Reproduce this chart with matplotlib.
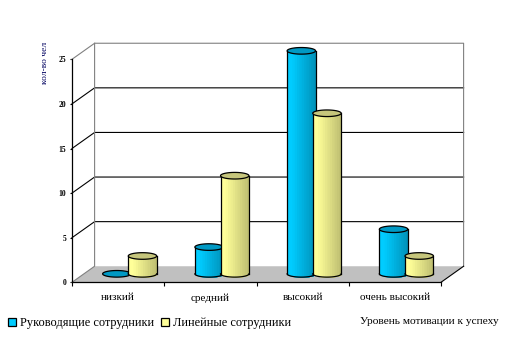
#!/usr/bin/env python3
"""Cylinder chart: motivation level by staff group."""
import numpy as np
import matplotlib
matplotlib.use("Agg")
import matplotlib.pyplot as plt
from matplotlib.colors import to_rgb
from matplotlib.patches import Patch

plt.rcParams['font.family'] = ['Liberation Serif', 'DejaVu Serif']

categories = ["низкий", "средний", "высокий", "очень высокий"]
managers = [0, 3, 25, 5]
line_staff = [2, 11, 18, 2]
y_ticks = [0, 5, 10, 15, 20, 25]
series_names = ["Руководящие сотрудники", "Линейные сотрудники"]

WIDTH, HEIGHT = 520, 357
# 3D look, in data units
DEPTH_X = 0.245
DEPTH_Y = 1.8
BASE_Y = 0.95
RADIUS_X = 0.154
RADIUS_Y = 0.37
N_STRIPS = 12


def mix(c0, c1, t):
    return tuple(np.array(to_rgb(c0)) * (1 - t) + np.array(to_rgb(c1)) * t)


def draw_cylinder(ax, xc, value, left, right, top_color):
    """Draw one banded cylinder standing on the floor."""
    top = BASE_Y + value
    angle = np.linspace(0, np.pi, 60)
    if value > 0:
        edges = np.linspace(-1, 1, N_STRIPS + 1)
        # each band runs to the right edge, the next one paints over it
        for i in range(N_STRIPS):
            t = (i + 0.5) / N_STRIPS
            col = mix(left, right, max(0, (t - 0.15) / 0.85))
            u = np.linspace(edges[i], 1, 30)
            bottom = BASE_Y - RADIUS_Y * np.sqrt(1 - u ** 2)
            ax.fill_between(xc + RADIUS_X * u, bottom, top, color=col, lw=0,
                            clip_on=False, zorder=3)
        ax.plot(xc - RADIUS_X * np.cos(angle), BASE_Y - RADIUS_Y * np.sin(angle),
                color="black", lw=0.9, clip_on=False, zorder=3)
        for side in (-1, 1):
            ax.plot([xc + side * RADIUS_X] * 2, [BASE_Y, top], color="black",
                    lw=0.9, clip_on=False, zorder=3)
    ring = np.linspace(0, 2 * np.pi, 80)
    ax.fill(xc + RADIUS_X * np.cos(ring), top + RADIUS_Y * np.sin(ring),
            facecolor=top_color, edgecolor="black", lw=0.9, clip_on=False, zorder=3)


fig = plt.figure(figsize=(WIDTH / 100, HEIGHT / 100), dpi=100)
ax = fig.add_axes([72 / WIDTH, 1 - 282.3 / HEIGHT, 369 / WIDTH, 223 / HEIGHT])
n = len(categories)
ax.set_xlim(0, n)
ax.set_ylim(0, 25)

# floor and walls
ax.fill([0, n, n + DEPTH_X, DEPTH_X], [0, 0, DEPTH_Y, DEPTH_Y], color="#c0c0c0",
        lw=0, clip_on=False, zorder=1)
for v in y_ticks[1:-1]:
    ax.plot([0, DEPTH_X, n + DEPTH_X], [v, v + DEPTH_Y, v + DEPTH_Y], color="black",
            lw=0.8, clip_on=False, zorder=2)
gray = "#808080"
ax.plot([0, DEPTH_X, DEPTH_X], [0, DEPTH_Y, 25 + DEPTH_Y], color=gray, lw=0.8,
        clip_on=False, zorder=2)
ax.plot([0, DEPTH_X, n + DEPTH_X, n + DEPTH_X], [25, 25 + DEPTH_Y, 25 + DEPTH_Y, DEPTH_Y],
        color=gray, lw=0.8, clip_on=False, zorder=2)
ax.plot([n, n + DEPTH_X], [0, DEPTH_Y], color="black", lw=0.8, clip_on=False, zorder=2)

# cylinders, yellow in front of blue
for i in range(n):
    draw_cylinder(ax, i + 0.486, managers[i], "#00ccff", "#0090b8", "#0099c4")
    draw_cylinder(ax, i + 0.764, line_staff[i], "#ffff99", "#bcbc70", "#c6c67c")

# axes
for name in ("top", "right"):
    ax.spines[name].set_visible(False)
for name in ("left", "bottom"):
    ax.spines[name].set_linewidth(0.9)
    ax.spines[name].set_zorder(2)
ax.set_yticks(y_ticks)
ax.tick_params(axis="y", length=1.5, width=0.8, pad=2.5, labelsize=5.5)
ax.set_xticks(range(n + 1))
ax.set_xticklabels([])
ax.set_xticks([i + 0.5 for i in range(n)], labels=categories, minor=True)
ax.tick_params(axis="x", which="major", length=3, width=0.8)
ax.tick_params(axis="x", which="minor", length=0, pad=8, labelsize=8)
for lab in ax.get_yticklabels():
    lab.set_fontweight("bold")

fig.text(44.7 / WIDTH, 1 - 62.5 / HEIGHT, "кол-во чел", rotation=90, ha="center",
         va="center", fontsize=6.8, color="#000060")
fig.text(360 / WIDTH, 1 - 322 / HEIGHT, "Уровень мотивации к успеху", ha="left",
         va="center", fontsize=8.2)

handles = [Patch(facecolor="#00ccff", edgecolor="black", lw=0.9),
           Patch(facecolor="#ffff99", edgecolor="black", lw=0.9)]
fig.legend(handles, series_names, loc="center left",
           bbox_to_anchor=(8 / WIDTH, 1 - 323 / HEIGHT), ncol=2, frameon=False,
           fontsize=8.9, handlelength=0.65, handleheight=0.65, handletextpad=0.32,
           columnspacing=0.55, borderpad=0, borderaxespad=0)

fig.savefig("out.png", dpi=100)
